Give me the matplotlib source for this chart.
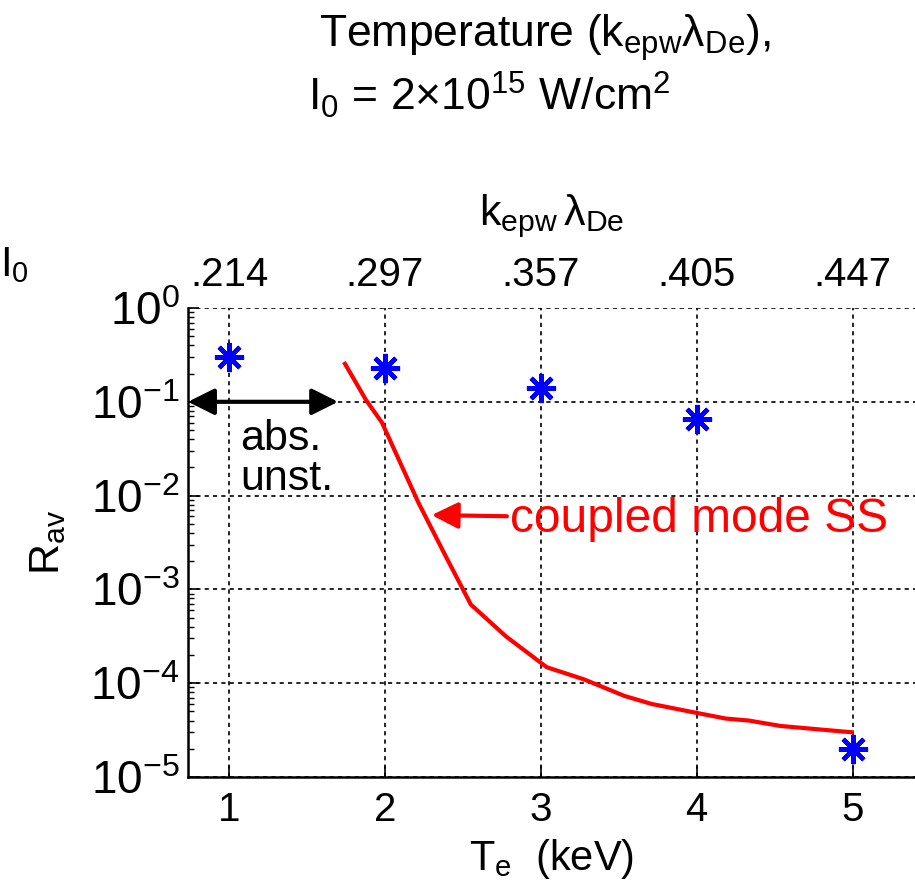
import matplotlib
matplotlib.use("Agg")
import matplotlib.pyplot as plt
import matplotlib.ticker as mticker
import numpy as np

# ---- data ----
te_points = [1, 2, 3, 4, 5]
r_points = [0.30, 0.23, 0.14, 0.065, 2.0e-5]

te_curve = [1.744, 1.878, 1.981, 2.215, 2.391, 2.551, 2.776, 3.038, 3.276,
            3.538, 3.712, 4.006, 4.186, 4.333, 4.538, 4.801, 4.994]
r_curve = [0.254, 0.105, 0.060, 8.4e-3, 2.24e-3, 6.9e-4, 3.16e-4, 1.48e-4,
           1.10e-4, 7.3e-5, 6.0e-5, 4.8e-5, 4.2e-5, 4.0e-5, 3.5e-5, 3.2e-5, 3.0e-5]

x_ticks = [1, 2, 3, 4, 5]
y_exps = [-5, -4, -3, -2, -1, 0]
top_ticks = [1, 2, 3, 4, 5]
top_labels = [".214", ".297", ".357", ".405", ".447"]

FONT = ["Liberation Sans", "DejaVu Sans"]
plt.rcParams['font.family'] = FONT
plt.rcParams['mathtext.fontset'] = 'custom'
plt.rcParams['mathtext.rm'] = 'Liberation Sans'
plt.rcParams['mathtext.it'] = 'Liberation Sans'
plt.rcParams['mathtext.bf'] = 'Liberation Sans'
plt.rcParams['mathtext.default'] = 'regular'

fig = plt.figure(figsize=(9.15, 8.93), dpi=100)
ax = fig.add_axes([188/915, 1-777/893, (915-188)/915, (777-308)/893])

ax.set_yscale('log')
ax.set_xlim(0.737, 5.40)
ax.set_ylim(1e-5, 1)

ax.plot(te_curve, r_curve, color='red', lw=3.0, zorder=3)
ax.plot(te_points, r_points, linestyle='none', marker=(8, 2, 0), markersize=21,
        markeredgewidth=3.2, color='blue', zorder=4)

ax.set_xticks(x_ticks)
ax.set_yticks([10.0**e for e in y_exps],
              labels=[r'$10^{%d}$' % e for e in y_exps])
ax.yaxis.set_minor_locator(mticker.LogLocator(base=10, subs=np.arange(2, 10), numticks=20))
ax.yaxis.set_minor_formatter(mticker.NullFormatter())
ax.grid(True, which='major', linestyle=(0, (2.5, 2.5)), color='black', lw=1.2)
ax.tick_params(axis='both', which='major', direction='in', labelsize=29, length=8, width=1.2)
ax.tick_params(axis='y', which='major', labelsize=33)
ax.tick_params(axis='y', which='minor', direction='in', length=4, width=1.0)
ax.tick_params(axis='x', pad=10)
ax.tick_params(axis='y', pad=6)
for sp in ax.spines.values():
    sp.set_linewidth(1.8)
ax.spines['top'].set_visible(False)
ax.spines['right'].set_visible(False)

ax.set_xlabel(r'$T_e$  (keV)', fontsize=30, labelpad=6)
ax.set_ylabel(r'$R_{av}$', fontsize=31, labelpad=16)

sec = ax.secondary_xaxis('top', functions=(lambda x: x, lambda x: x))
sec.set_xticks(top_ticks, labels=top_labels)
sec.spines['top'].set_visible(False)
sec.tick_params(direction='in', labelsize=29, length=0, width=1.2, pad=10)
sec.set_xlabel(r'$k_{epw}\,\lambda_{De}$', fontsize=31, labelpad=22)

# double arrow "abs. unst."
ax.annotate('', xy=(0.737, 0.1), xytext=(1.70, 0.1),
            arrowprops=dict(arrowstyle='<|-|>', color='black', lw=3,
                            mutation_scale=40, shrinkA=0, shrinkB=0))
ax.text(1.07, 0.065, 'abs.\nunst.', fontsize=31, ha='left', va='top', linespacing=1.0)

# red arrow to curve
ax.annotate('coupled mode SS', xy=(2.30, 6.2e-3), xytext=(2.80, 5.6e-3),
            fontsize=34.5, color='red', ha='left', va='center',
            arrowprops=dict(arrowstyle='-|>', color='red', lw=3,
                            mutation_scale=40, shrinkA=0, shrinkB=0))

fig.text(545/915, 1-38/893, r'Temperature ($k_{epw}\lambda_{De}$),', fontsize=32,
         ha='center', va='center')
fig.text(308/915, 1-95/893, r'$I_0$ = 2$\times$10$^{15}$ W/cm$^2$', fontsize=32,
         ha='left', va='center')
fig.text(0/915, 1-265/893, r'$I_0$', fontsize=30, ha='left', va='center')

fig.savefig('out.png', dpi=100)
